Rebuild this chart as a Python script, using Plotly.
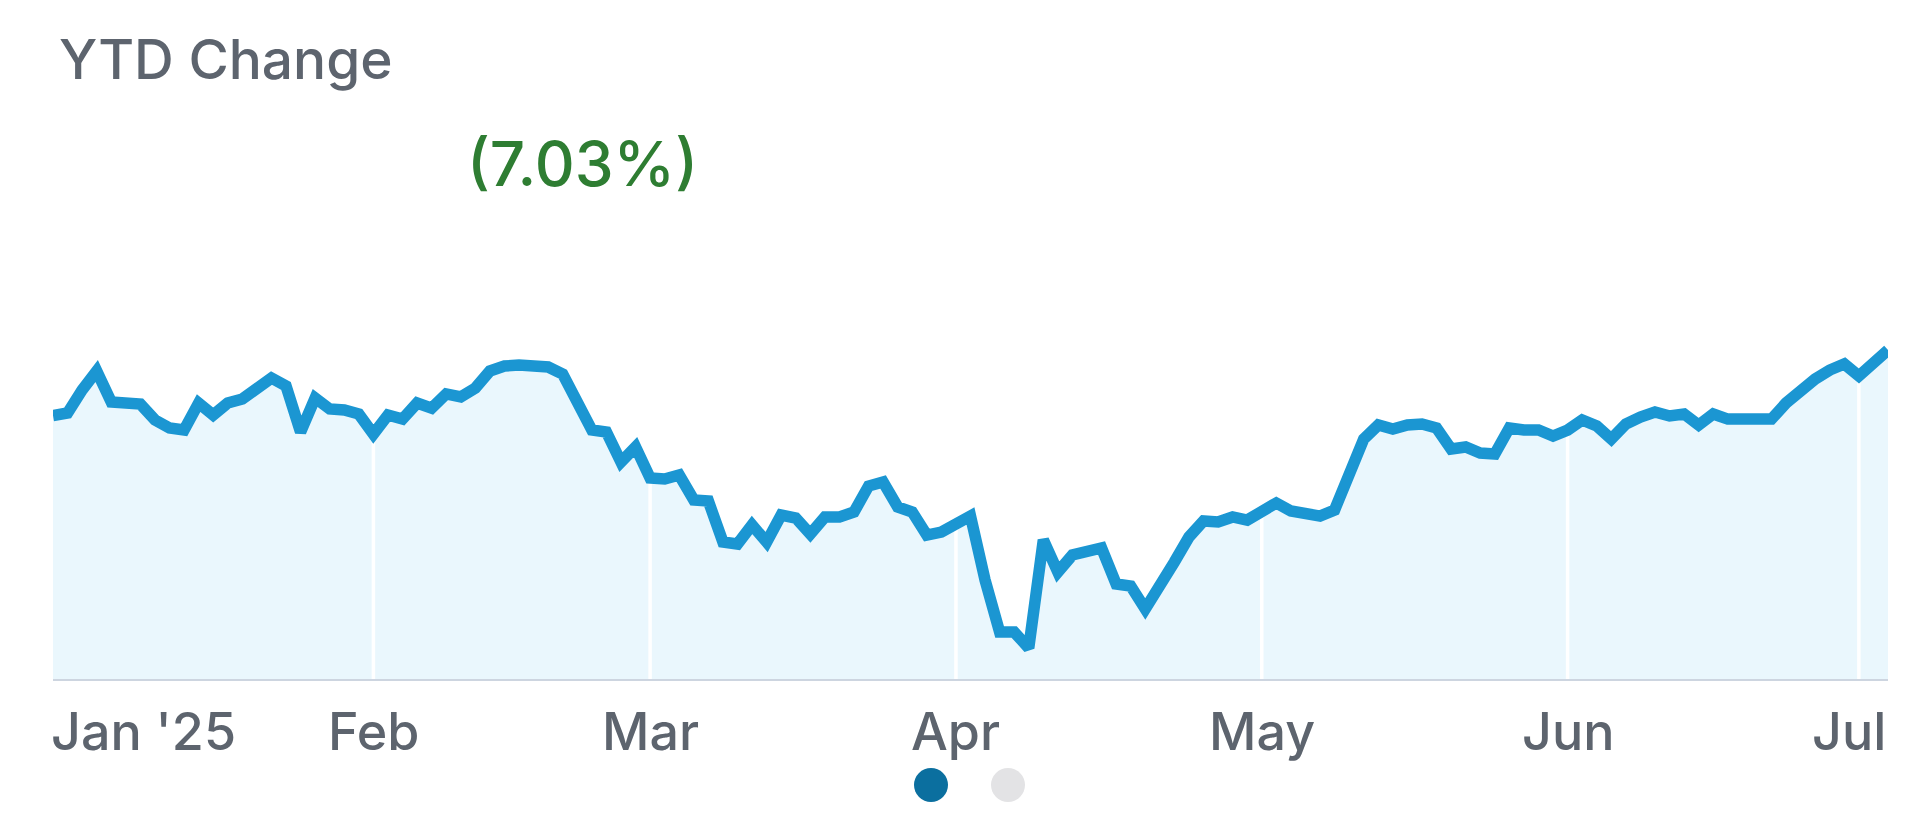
import plotly.graph_objects as go

# ---------------- data ----------------
dates = [
    "2024-12-31",
    "2025-01-02", "2025-01-03", "2025-01-06", "2025-01-07", "2025-01-08", "2025-01-09",
    "2025-01-10", "2025-01-13", "2025-01-14", "2025-01-15", "2025-01-16", "2025-01-17",
    "2025-01-21", "2025-01-22", "2025-01-23", "2025-01-24", "2025-01-27", "2025-01-28",
    "2025-01-29", "2025-01-30", "2025-01-31",
    "2025-02-03", "2025-02-04", "2025-02-05", "2025-02-06", "2025-02-07", "2025-02-10",
    "2025-02-11", "2025-02-12", "2025-02-13", "2025-02-14", "2025-02-18", "2025-02-19",
    "2025-02-20", "2025-02-21", "2025-02-24", "2025-02-25", "2025-02-26", "2025-02-27",
    "2025-02-28",
    "2025-03-03", "2025-03-04", "2025-03-05", "2025-03-06", "2025-03-07", "2025-03-10",
    "2025-03-11", "2025-03-12", "2025-03-13", "2025-03-14", "2025-03-17", "2025-03-18",
    "2025-03-19", "2025-03-20", "2025-03-21", "2025-03-24", "2025-03-25", "2025-03-26",
    "2025-03-27", "2025-03-28", "2025-03-31",
    "2025-04-01", "2025-04-02", "2025-04-03", "2025-04-04", "2025-04-07", "2025-04-08",
    "2025-04-09", "2025-04-10", "2025-04-11", "2025-04-14", "2025-04-15", "2025-04-16",
    "2025-04-17", "2025-04-21", "2025-04-22", "2025-04-23", "2025-04-24", "2025-04-25",
    "2025-04-28", "2025-04-29", "2025-04-30",
    "2025-05-01", "2025-05-02", "2025-05-05", "2025-05-06", "2025-05-07", "2025-05-08",
    "2025-05-09", "2025-05-12", "2025-05-13", "2025-05-14", "2025-05-15", "2025-05-16",
    "2025-05-19", "2025-05-20", "2025-05-21", "2025-05-22", "2025-05-23", "2025-05-27",
    "2025-05-28", "2025-05-29", "2025-05-30",
    "2025-06-02", "2025-06-03", "2025-06-04", "2025-06-05", "2025-06-06", "2025-06-09",
    "2025-06-10", "2025-06-11", "2025-06-12", "2025-06-13", "2025-06-16", "2025-06-17",
    "2025-06-18", "2025-06-20", "2025-06-23", "2025-06-24", "2025-06-25", "2025-06-26",
    "2025-06-27", "2025-06-30",
    "2025-07-01", "2025-07-02", "2025-07-03",
]

ytd_change_pct = [
    0.00,
    0.27, 2.74, 4.78, 1.45, 1.45, 1.23,
    -0.48, -1.34, -1.56, 1.34, 0.05, 1.34,
    1.77, 3.06, 4.02, 3.17, -1.77, 1.88,
    0.70, 0.59, 0.16,
    -1.99, 0.05, -0.38, 1.34, 0.80, 2.31,
    1.99, 2.95, 4.78, 5.31, 5.42, 5.42,
    5.21, 4.45, 1.45, -1.56, -1.77, -4.99,
    -3.38,
    -6.71, -6.82, -6.39, -9.07, -9.18, -13.58,
    -13.79, -11.75, -13.58, -10.68, -11.00, -12.72,
    -10.89, -10.89, -10.36, -7.57, -7.14, -9.82,
    -10.36, -12.83, -12.51,
    -11.65, -10.79, -17.66, -23.24, -23.24, -24.96,
    -13.36, -16.80, -14.97, -14.54, -14.22, -18.08,
    -18.30, -20.77, -18.40, -15.72, -13.04, -11.32,
    -11.43, -10.89, -11.22,
    -10.14, -9.39, -10.25, -10.68, -10.79, -10.14,
    -6.06, -2.52, -1.02, -1.45, -1.02, -0.91,
    -1.34, -3.60, -3.38, -4.03, -4.13, -1.34,
    -1.56, -1.56, -2.20,
    -1.56, -0.48, -1.13, -2.52, -0.91, -0.16,
    0.38, -0.05, 0.16, -1.02, 0.16, -0.38,
    -0.48, -0.48, -0.38, 1.34, 2.74, 3.92,
    4.88, 5.53,
    4.24, 5.63, 7.03,
]

month_start_dates = ["2025-02-03", "2025-03-03", "2025-04-01", "2025-05-01", "2025-06-02", "2025-07-01"]
tick_label_dates = ["2024-12-31", "2025-02-03", "2025-03-03", "2025-04-01", "2025-05-01", "2025-06-02", "2025-07-03"]
tick_labels = ["Jan '25", "Feb", "Mar", "Apr", "May", "Jun", "Jul"]
tick_anchors = ["left", "center", "center", "center", "center", "center", "right"]

title_text = "YTD Change"
change_text = "(7.03%)"

# ---------------- layout geometry (pixels) ----------------
W, H = 1928, 824
PLOT_L, PLOT_R = 45, 1880
PLOT_T, PLOT_B = 214, 671
Y_MIN, Y_MAX = -28.28, 20.77

def px_x(p):
    return (p - PLOT_L) / (PLOT_R - PLOT_L)

def px_y(p):
    return (PLOT_B - p) / (PLOT_B - PLOT_T)

LINE_COLOR = "#1b96d2"
FILL_COLOR = "#eaf7fd"
TEXT_GREY = "#5d646e"
FONT = "Inter, Arial, sans-serif"

fig = go.Figure()

# invisible baseline at the bottom of the plot, so the area fills down to the axis
fig.add_trace(go.Scatter(
    x=dates, y=[Y_MIN] * len(dates), mode="lines",
    line=dict(width=0, color=FILL_COLOR),
    hoverinfo="skip", showlegend=False,
))
# area fill
fig.add_trace(go.Scatter(
    x=dates, y=ytd_change_pct, mode="lines",
    line=dict(width=0, color=FILL_COLOR),
    fill="tonexty", fillcolor=FILL_COLOR,
    hoverinfo="skip", showlegend=False,
))

# white month gridlines drawn over the fill
gx, gy = [], []
for d in month_start_dates:
    gx += [d, d, None]
    gy += [Y_MIN, Y_MAX, None]
fig.add_trace(go.Scatter(
    x=gx, y=gy, mode="lines",
    line=dict(color="#ffffff", width=3.5),
    hoverinfo="skip", showlegend=False,
))

# main line
fig.add_trace(go.Scatter(
    x=dates, y=ytd_change_pct, mode="lines",
    line=dict(color=LINE_COLOR, width=11.5),
    showlegend=False,
))

annotations = [
    dict(text=title_text, xref="paper", yref="paper", x=px_x(49), y=px_y(51),
         xanchor="left", yanchor="middle", showarrow=False,
         font=dict(family=FONT, size=55, color=TEXT_GREY, weight=500)),
    dict(text=change_text, xref="paper", yref="paper", x=px_x(457), y=px_y(156),
         xanchor="left", yanchor="middle", showarrow=False,
         font=dict(family=FONT, size=62, color="#2e7d32", weight=500)),
]
for d, lab, anc in zip(tick_label_dates, tick_labels, tick_anchors):
    annotations.append(dict(
        text=lab, x=d, xref="x", yref="paper", y=px_y(723),
        xanchor=anc, yanchor="middle", showarrow=False,
        xshift=(-4 if anc == "left" else 0),
        font=dict(family=FONT, size=52, color=TEXT_GREY, weight=500),
    ))

shapes = [
    dict(type="circle", xref="paper", yref="paper",
         xsizemode="pixel", ysizemode="pixel",
         xanchor=px_x(923), yanchor=px_y(777),
         x0=-17, x1=17, y0=-17, y1=17,
         fillcolor="#0b6f9f", line=dict(width=0)),
    dict(type="circle", xref="paper", yref="paper",
         xsizemode="pixel", ysizemode="pixel",
         xanchor=px_x(1000), yanchor=px_y(777),
         x0=-17, x1=17, y0=-17, y1=17,
         fillcolor="#e3e3e5", line=dict(width=0)),
]

fig.update_layout(
    width=W, height=H,
    margin=dict(l=PLOT_L, r=W - PLOT_R, t=PLOT_T, b=H - PLOT_B, pad=0),
    paper_bgcolor="#ffffff", plot_bgcolor="#ffffff",
    annotations=annotations, shapes=shapes,
    xaxis=dict(type="category", range=[0, len(dates) - 1],
               showgrid=False, zeroline=False, showticklabels=False, ticks="",
               showline=True, linecolor="#cdd5e0", linewidth=2, fixedrange=True),
    yaxis=dict(range=[Y_MIN, Y_MAX], showgrid=False, zeroline=False,
               showticklabels=False, ticks="", showline=False, fixedrange=True),
    font=dict(family=FONT),
)

fig.write_html("out.html", config={"displayModeBar": False})
